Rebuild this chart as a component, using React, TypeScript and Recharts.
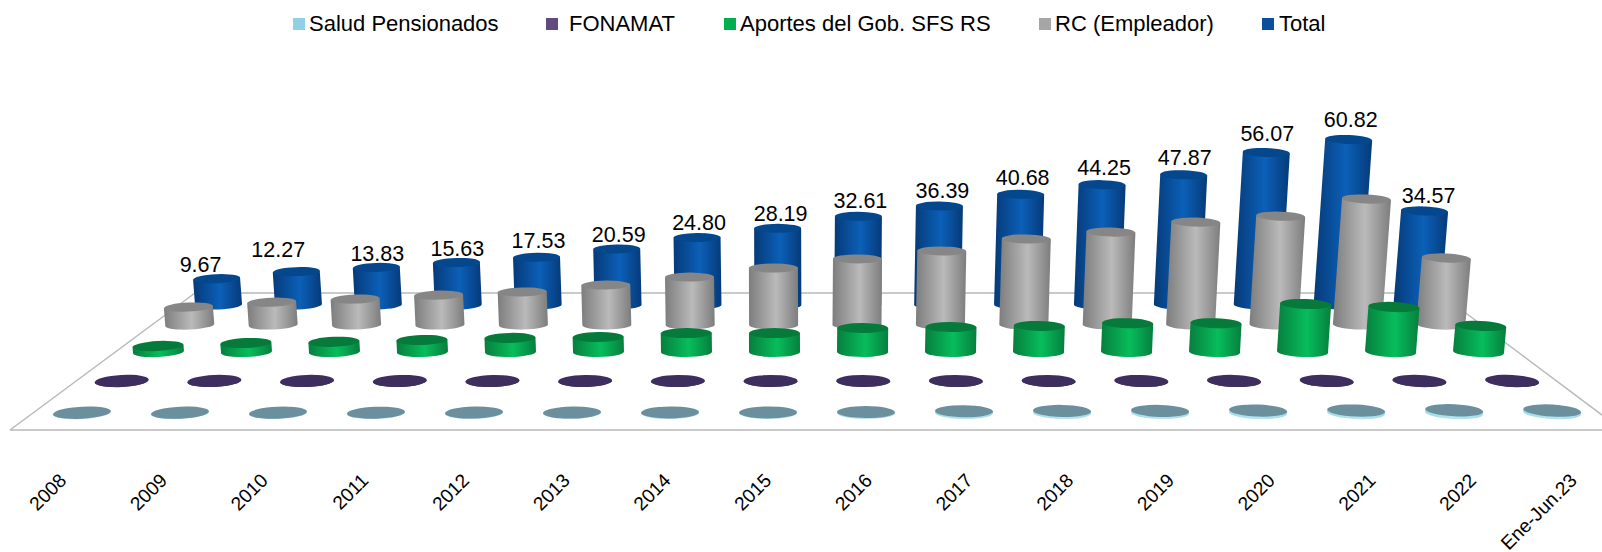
import React from 'react'
import { Bar, ComposedChart, LabelList, Legend, XAxis, YAxis } from 'recharts'

const categories = ['2008', '2009', '2010', '2011', '2012', '2013', '2014', '2015', '2016', '2017', '2018', '2019', '2020', '2021', '2022', 'Ene-Jun.23']
const total = [9.67, 12.27, 13.83, 15.63, 17.53, 20.59, 24.8, 28.19, 32.61, 36.39, 40.68, 44.25, 47.87, 56.07, 60.82, 34.57]
const rcEmpleador = [6.3, 8.0, 9.1, 10.5, 11.6, 14.0, 16.8, 20.0, 23.2, 26.0, 30.2, 32.6, 36.1, 38.2, 44.2, 23.5]
const aportes = [2.0, 3.0, 3.4, 4.0, 4.7, 5.0, 6.3, 6.3, 8.0, 8.3, 8.7, 9.6, 9.6, 16.0, 15.0, 8.7]
const fonamat = [0.02, 0.02, 0.02, 0.02, 0.02, 0.02, 0.02, 0.02, 0.02, 0.02, 0.02, 0.02, 0.02, 0.02, 0.02, 0.02]
const salud = [0.1, 0.1, 0.1, 0.1, 0.15, 0.15, 0.2, 0.2, 0.3, 0.6, 0.7, 0.7, 0.8, 0.8, 0.9, 0.8]

const legendOrder = ['Salud Pensionados', 'FONAMAT', 'Aportes del Gob. SFS RS', 'RC (Empleador)', 'Total']

const W = 1640
const PLOT_LEFT = 10
const PLOT_RIGHT = 1622
const FLOOR_FRONT = 430
const CHART_H = 552
const DOMAIN_MAX = 70
const MID_X = 800
const LEAN = 1.3e-4
const TILT = 0.0045

// back row first, so the front rows paint over it
const rows = [
  { id: 'total', name: 'Total', values: total, x0: 219, step: 79.9, base: 305, perUnit: 2.72, w: 47, ry: 4.5, edge: '#063a78', mid: '#0b60b8', top: '#05478c', swatch: '#0a4f9c' },
  { id: 'rc', name: 'RC (Empleador)', values: rcEmpleador, x0: 190, step: 83.4, base: 325, perUnit: 2.85, w: 49, ry: 4.5, edge: '#7d7d7d', mid: '#bababa', top: '#868686', swatch: '#a6a6a6' },
  { id: 'aportes', name: 'Aportes del Gob. SFS RS', values: aportes, x0: 158, step: 88, base: 352, perUnit: 3, w: 51, ry: 5, edge: '#067f3e', mid: '#07bd5c', top: '#067a3a', swatch: '#00b050' },
  { id: 'fonamat', name: 'FONAMAT', values: fonamat, x0: 122, step: 92.7, base: 381, perUnit: 3, w: 54, ry: 6, edge: '#3e2e60', mid: '#3e2e60', top: '#3e2e60', swatch: '#604a7b' },
  { id: 'salud', name: 'Salud Pensionados', values: salud, x0: 82, step: 98, base: 413, perUnit: 3, w: 58, ry: 6, edge: '#a4dbe8', mid: '#b4e4ef', top: '#6b8f9c', swatch: '#92d1e3' },
]

const data = categories.map((cat, i) => {
  const row: Record<string, string | number> = { cat }
  rows.forEach((r) => {
    row[r.id] = r.values[i]
  })
  return row
})

// squares and text starts of the legend
const legendX: Record<string, [number, number]> = {
  'Salud Pensionados': [293, 309],
  FONAMAT: [546, 569],
  'Aportes del Gob. SFS RS': [724, 740],
  'RC (Empleador)': [1039, 1055],
  Total: [1262, 1279],
}

// the labels do not all sit the same distance off their bar in the original
const labelNudge: [number, number][] = [
  [-16, 3], [-18, -5], [1, 3.3], [1, 3.5], [2, 0.7], [2, 3], [2, 2.5], [3, 2.7],
  [2, 2], [3, 2], [2, 0.6], [2, 0.4], [1, 0], [1, -1.5], [2, -3], [4, 2.3],
]

const leanOf = (cx: number, h: number) => LEAN * (cx - MID_X) * h

const Cylinder = (props: any, r: (typeof rows)[number]) => {
  const { x, y, width, height } = props
  const cx = x + width / 2
  const rx = width / 2
  const baseY = y + height
  const lean = leanOf(cx, height)
  const deg = TILT * (cx - MID_X)
  const rad = (deg * Math.PI) / 180
  const dx = rx * Math.cos(rad)
  const dy = rx * Math.sin(rad)
  const body = [
    `M ${cx - dx} ${baseY - dy}`,
    `A ${rx} ${r.ry} ${deg} 0 0 ${cx + dx} ${baseY + dy}`,
    `L ${cx + dx + lean} ${y + dy}`,
    `L ${cx - dx + lean} ${y - dy}`,
    'Z',
  ].join(' ')
  return (
    <g>
      <path d={body} fill={`url(#grad-${r.id})`} />
      <ellipse
        cx={cx + lean}
        cy={y}
        rx={rx}
        ry={r.ry}
        fill={r.top}
        transform={`rotate(${deg} ${cx + lean} ${y})`}
      />
    </g>
  )
}

const TotalLabel = (props: any) => {
  const { x, y, width, height, value, index } = props
  const cx = x + width / 2
  const nudge = labelNudge[index] || [0, 0]
  return (
    <text
      x={cx + leanOf(cx, height) + nudge[0]}
      y={y - 10 + nudge[1]}
      textAnchor='middle'
      fontFamily='Liberation Sans'
      fontSize={21.5}
      fill='#000'
    >
      {Number(value).toFixed(2)}
    </text>
  )
}

const YearTick = (props: any) => {
  const { x, y, payload } = props
  const px = x - 3
  const py = y + 34
  return (
    <text
      x={px}
      y={py}
      textAnchor='end'
      dominantBaseline='hanging'
      fontFamily='Liberation Sans'
      fontSize={19.2}
      fill='#000'
      transform={`rotate(-45 ${px} ${py})`}
    >
      {payload.value}
    </text>
  )
}

const LegendRow = (props: any) => {
  const payload = props.payload || []
  return (
    <div style={{ position: 'relative', width: W, height: 0 }}>
      {legendOrder.map((name) => {
        const item = payload.find((p: any) => p.value === name)
        const [sq, tx] = legendX[name]
        return (
          <React.Fragment key={name}>
            <span style={{ position: 'absolute', left: sq, top: 18, width: 12, height: 12, background: item ? item.color : '#999' }} />
            <span style={{ position: 'absolute', left: tx, top: 11, fontFamily: 'Liberation Sans', fontSize: 22, lineHeight: '25px', whiteSpace: 'nowrap', color: '#000' }}>
              {name}
            </span>
          </React.Fragment>
        )
      })}
    </div>
  )
}

export default function App() {
  const plotW = PLOT_RIGHT - PLOT_LEFT
  return (
    <div style={{ position: 'absolute', left: 0, top: 0, width: 1602, height: 552, overflow: 'hidden', background: '#fff' }}>
      <ComposedChart
        width={W}
        height={CHART_H}
        data={data}
        margin={{ top: 0, right: W - PLOT_RIGHT, bottom: 0, left: PLOT_LEFT }}
      >
        <defs>
          {rows.map((r) => (
            <linearGradient key={r.id} id={`grad-${r.id}`} x1='0' y1='0' x2='1' y2='0'>
              <stop offset='0%' stopColor={r.edge} />
              <stop offset='55%' stopColor={r.mid} />
              <stop offset='100%' stopColor={r.edge} />
            </linearGradient>
          ))}
        </defs>
        <Legend
          verticalAlign='top'
          height={0}
          content={LegendRow}
          itemSorter={null}
          wrapperStyle={{ left: 0, top: 0, width: W, height: 0 }}
        />
        <line x1={PLOT_LEFT} y1={FLOOR_FRONT} x2={195} y2={293} stroke='#b9b9b9' strokeWidth={1.5} />
        <line x1={195} y1={293} x2={1439} y2={293} stroke='#b9b9b9' strokeWidth={1.5} />
        <line x1={1439} y1={293} x2={PLOT_RIGHT} y2={FLOOR_FRONT} stroke='#b9b9b9' strokeWidth={1.5} />
        <XAxis
          xAxisId='labels'
          dataKey='cat'
          height={CHART_H - FLOOR_FRONT}
          interval={0}
          tickLine={false}
          axisLine={{ stroke: '#b9b9b9', strokeWidth: 1.5 }}
          tick={YearTick}
          padding={{ left: 0.6, right: 0.15 }}
        />
        {rows.map((r) => (
          <XAxis
            key={r.id}
            xAxisId={r.id}
            dataKey='cat'
            hide
            height={0}
            padding={{
              left: r.x0 - r.step / 2 - PLOT_LEFT,
              right: plotW + PLOT_LEFT - (r.x0 + 15.5 * r.step),
            }}
          />
        ))}
        {rows.map((r) => (
          <YAxis
            key={r.id}
            yAxisId={r.id}
            hide
            width={0}
            type='number'
            domain={[0, DOMAIN_MAX]}
            padding={{ top: r.base - r.perUnit * DOMAIN_MAX, bottom: FLOOR_FRONT - r.base }}
          />
        ))}
        <YAxis yAxisId='labels' hide width={0} />
        {rows.map((r) => (
          <Bar
            key={r.id}
            name={r.name}
            dataKey={r.id}
            xAxisId={r.id}
            yAxisId={r.id}
            barSize={r.w}
            fill={r.swatch}
            isAnimationActive={false}
            shape={(p: any) => Cylinder(p, r)}
          >
            {r.id === 'total' && <LabelList dataKey='total' content={TotalLabel} />}
          </Bar>
        ))}
      </ComposedChart>
    </div>
  )
}
